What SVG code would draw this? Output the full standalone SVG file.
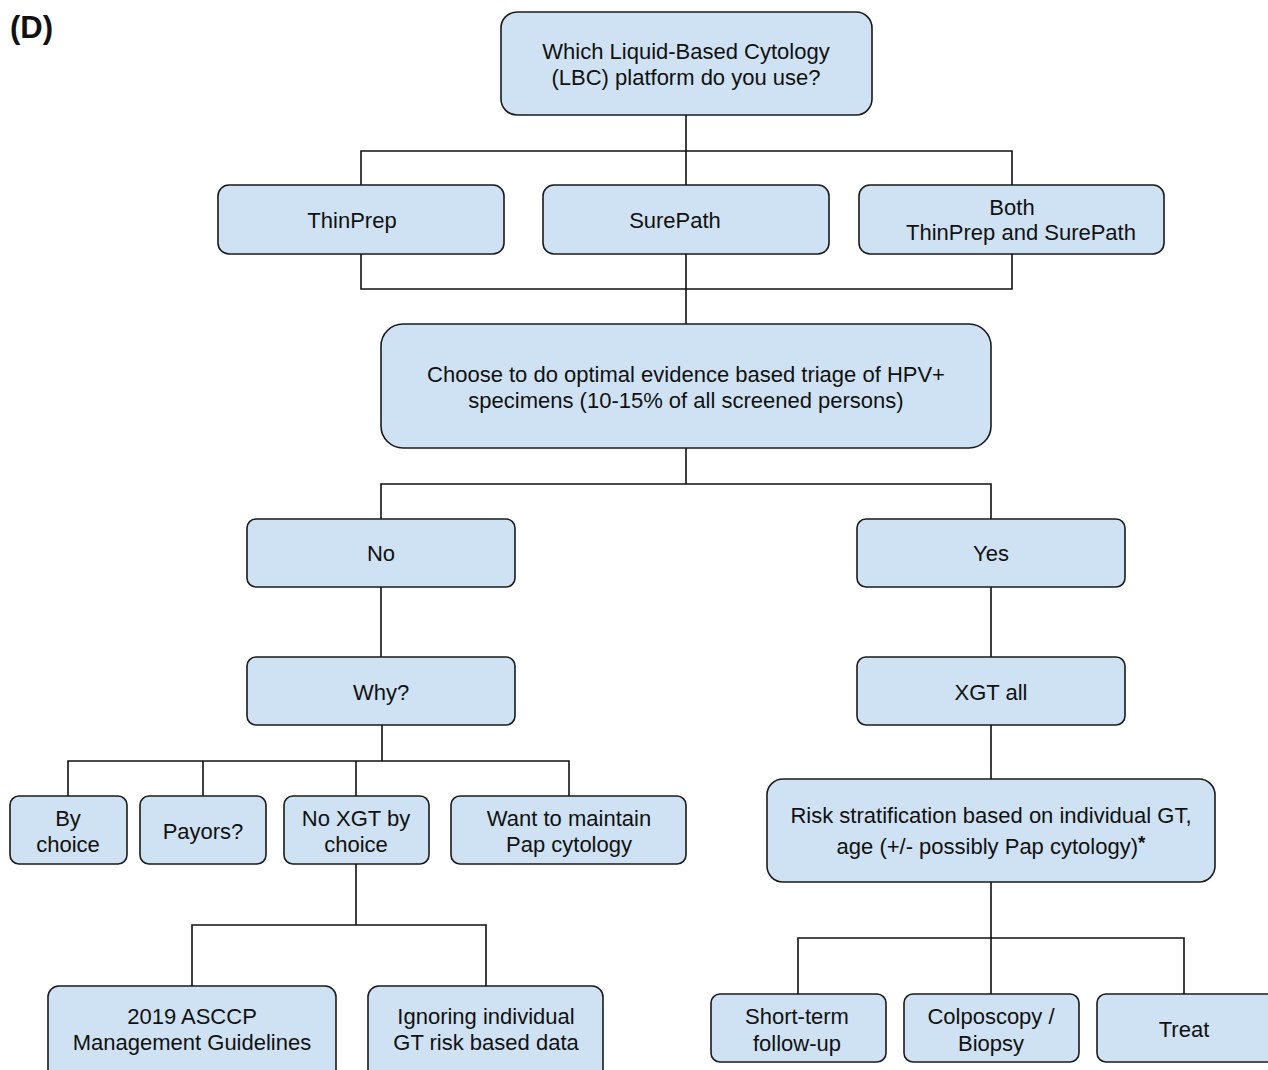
<svg xmlns="http://www.w3.org/2000/svg" width="1268" height="1070" viewBox="0 0 1268 1070">
<style>
.n{fill:#cfe2f3;stroke:#1a1a1a;stroke-width:1.6}
.t{font-family:"Liberation Sans",Arial,sans-serif;font-size:22px;fill:#111;text-anchor:middle}
.c{fill:none;stroke:#111;stroke-width:1.6}
</style>
<rect width="1268" height="1070" fill="#fff"/>
<text x="10" y="38" font-family="Liberation Sans,Arial,sans-serif" font-size="31" font-weight="bold" fill="#111">(D)</text>
<g id="connectors">
<path class="c" d="M686 115V185M361 185V151H1012V185"/>
<path class="c" d="M361 254V289H1012V254M686 254V324"/>
<path class="c" d="M686 448V484M381 519V484H991V519"/>
<path class="c" d="M381 587V657M991 587V657M991 725V779"/>
<path class="c" d="M382 725V761M68 796V761H569V796M203 761V796M356 761V796"/>
<path class="c" d="M356 864V925M192 986V925H486V986"/>
<path class="c" d="M991 882V994M798 994V938H1184V994"/>
</g>
<g id="n-lbc"><rect class="n" x="501" y="12" width="371" height="103" rx="16"/><text class="t" x="686" y="59">Which Liquid-Based Cytology</text><text class="t" x="686" y="85">(LBC) platform do you use?</text></g>
<g id="n-thinprep"><rect class="n" x="218" y="185" width="286" height="69" rx="11"/><text class="t" x="352" y="228">ThinPrep</text></g>
<g id="n-surepath"><rect class="n" x="543" y="185" width="286" height="69" rx="11"/><text class="t" x="675" y="228">SurePath</text></g>
<g id="n-both"><rect class="n" x="859" y="185" width="305" height="69" rx="11"/><text class="t" x="1012" y="215">Both</text><text class="t" x="1021" y="240">ThinPrep and SurePath</text></g>
<g id="n-choose"><rect class="n" x="381" y="324" width="610" height="124" rx="22"/><text class="t" x="686" y="382">Choose to do optimal evidence based triage of HPV+</text><text class="t" x="686" y="408">specimens (10-15% of all screened persons)</text></g>
<g id="n-no"><rect class="n" x="247" y="519" width="268" height="68" rx="9"/><text class="t" x="381" y="561">No</text></g>
<g id="n-yes"><rect class="n" x="857" y="519" width="268" height="68" rx="9"/><text class="t" x="991" y="561">Yes</text></g>
<g id="n-why"><rect class="n" x="247" y="657" width="268" height="68" rx="9"/><text class="t" x="381" y="700">Why?</text></g>
<g id="n-xgt"><rect class="n" x="857" y="657" width="268" height="68" rx="9"/><text class="t" x="991" y="700">XGT all</text></g>
<g id="n-bychoice"><rect class="n" x="10" y="796" width="117" height="68" rx="9"/><text class="t" x="68" y="826">By</text><text class="t" x="68" y="852">choice</text></g>
<g id="n-payors"><rect class="n" x="140" y="796" width="126" height="68" rx="9"/><text class="t" x="203" y="839">Payors?</text></g>
<g id="n-noxgt"><rect class="n" x="284" y="796" width="145" height="68" rx="9"/><text class="t" x="356" y="826">No XGT by</text><text class="t" x="356" y="852">choice</text></g>
<g id="n-pap"><rect class="n" x="451" y="796" width="235" height="68" rx="9"/><text class="t" x="569" y="826">Want to maintain</text><text class="t" x="569" y="852">Pap cytology</text></g>
<g id="n-risk"><rect class="n" x="767" y="779" width="448" height="103" rx="16"/><text class="t" x="991" y="823" font-size="23">Risk stratification based on individual GT,</text><text class="t" x="991" y="854" font-size="23">age (+/- possibly Pap cytology)<tspan font-weight="bold" font-size="19" dy="-5">*</tspan></text></g>
<g id="n-asccp"><rect class="n" x="48" y="986" width="288" height="95" rx="11"/><text class="t" x="192" y="1024">2019 ASCCP</text><text class="t" x="192" y="1050">Management Guidelines</text></g>
<g id="n-ignoring"><rect class="n" x="368" y="986" width="235" height="95" rx="11"/><text class="t" x="486" y="1024">Ignoring individual</text><text class="t" x="486" y="1050">GT risk based data</text></g>
<g id="n-short"><rect class="n" x="711" y="994" width="175" height="68" rx="9"/><text class="t" x="797" y="1024">Short-term</text><text class="t" x="797" y="1051">follow-up</text></g>
<g id="n-colpo"><rect class="n" x="904" y="994" width="175" height="68" rx="9"/><text class="t" x="991" y="1024">Colposcopy /</text><text class="t" x="991" y="1051">Biopsy</text></g>
<g id="n-treat"><rect class="n" x="1097" y="994" width="180" height="68" rx="9"/><text class="t" x="1184" y="1037">Treat</text></g>
</svg>
